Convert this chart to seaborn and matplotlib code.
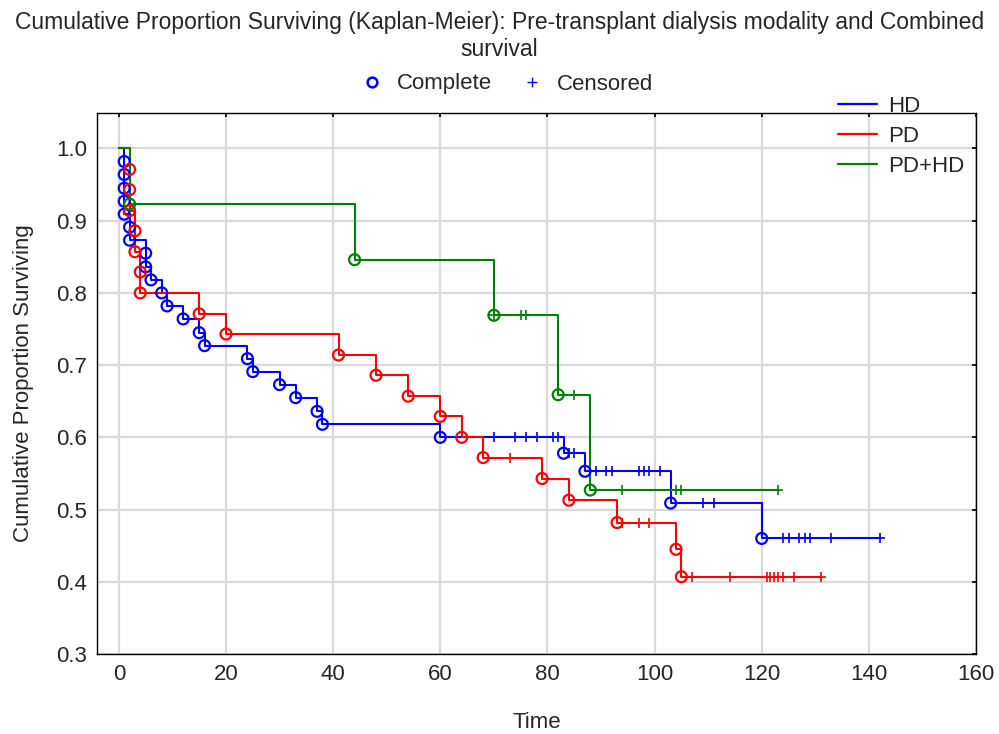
import numpy as np
import pandas as pd
import matplotlib
matplotlib.use("Agg")
import matplotlib.pyplot as plt
from matplotlib.lines import Line2D
import seaborn as sns

# ---- data ----
groups = ["HD", "PD", "PD+HD"]
colors = {"HD": "#0000ff", "PD": "#ff0000", "PD+HD": "#008000"}

hd_event_t = [1, 1, 1, 1, 1, 2, 2, 5, 5, 6, 8, 9, 12, 15, 16, 24, 25, 30, 33, 37, 38, 60, 83, 87, 103, 120]
hd_surv = [0.982, 0.964, 0.945, 0.927, 0.909, 0.891, 0.873, 0.855, 0.836, 0.818, 0.800, 0.782, 0.764,
           0.745, 0.727, 0.709, 0.691, 0.673, 0.655, 0.636, 0.618, 0.600, 0.578, 0.553, 0.509, 0.460]
hd_cens_t = [70, 74, 76, 78, 81, 82, 84, 85, 89, 91, 92, 97, 98, 99, 101, 109, 111,
             124, 125, 127, 128, 129, 133, 142]

pd_event_t = [2, 2, 2, 3, 3, 4, 4, 15, 20, 41, 48, 54, 60, 64, 68, 79, 84, 93, 104, 105]
pd_surv = [0.971, 0.943, 0.914, 0.886, 0.857, 0.829, 0.800, 0.771, 0.743, 0.714, 0.686, 0.657,
           0.629, 0.600, 0.572, 0.543, 0.513, 0.482, 0.445, 0.407]
pd_cens_t = [73, 94, 97, 99, 107, 114, 121, 121.5, 122.3, 123, 124, 126, 131]

pdhd_event_t = [2, 44, 70, 82, 88]
pdhd_surv = [0.923, 0.846, 0.769, 0.659, 0.527]
pdhd_cens_t = [70, 75, 76, 85, 94, 104, 105, 123]

x_ticks = [0, 20, 40, 60, 80, 100, 120, 140, 160]
y_ticks = [0.3, 0.4, 0.5, 0.6, 0.7, 0.8, 0.9, 1.0]

title = "Cumulative Proportion Surviving (Kaplan-Meier): Pre-transplant dialysis modality and Combined\nsurvival"

series = {
    "HD": (hd_event_t, hd_surv, hd_cens_t),
    "PD": (pd_event_t, pd_surv, pd_cens_t),
    "PD+HD": (pdhd_event_t, pdhd_surv, pdhd_cens_t),
}

# ---- build tables ----
line_rows, event_rows, cens_rows = [], [], []
for g, (et, sv, ct) in series.items():
    def s_at(t):
        v = 1.0
        for ti, si in zip(et, sv):
            if ti <= t:
                v = si
        return v
    line_rows.append((g, 0.0, 1.0, 0))
    k = 1
    for ti, si in zip(et, sv):
        line_rows.append((g, ti, si, k)); k += 1
    last = max(max(et), max(ct))
    line_rows.append((g, last, s_at(last), k))
    for ti, si in zip(et, sv):
        event_rows.append((g, ti, si))
    for ti in ct:
        cens_rows.append((g, ti, s_at(ti)))

lines_df = pd.DataFrame(line_rows, columns=["group", "time", "surv", "order"])
events_df = pd.DataFrame(event_rows, columns=["group", "time", "surv"])
cens_df = pd.DataFrame(cens_rows, columns=["group", "time", "surv"])

# ---- plot ----
sns.set_theme(style="white")
plt.rcParams["font.family"] = ["Liberation Sans", "DejaVu Sans"]
FS = 16

fig = plt.figure(figsize=(9.99, 7.34), dpi=100)
ax = fig.add_axes([0.097, 0.109, 0.880, 0.7375])

for g in groups:
    d = lines_df[lines_df.group == g]
    sns.lineplot(data=d, x="time", y="surv", ax=ax, color=colors[g], lw=1.5,
                 drawstyle="steps-post", estimator=None, sort=False, legend=False, zorder=3)
for g in groups:
    d = events_df[events_df.group == g]
    sns.scatterplot(data=d, x="time", y="surv", ax=ax, marker="o", s=62,
                    facecolor="none", edgecolor=colors[g], linewidth=1.6, legend=False, zorder=4)
    c = cens_df[cens_df.group == g]
    sns.scatterplot(data=c, x="time", y="surv", ax=ax, marker="+", s=60,
                    color=colors[g], linewidth=1.2, legend=False, zorder=4)

ax.set_xlim(-4.1, 160)
ax.set_ylim(0.3, 1.0496)
ax.set_xticks(x_ticks)
ax.set_yticks(y_ticks)
ax.set_xticklabels([str(v) for v in x_ticks], fontsize=FS)
ax.set_yticklabels([f"{v:.1f}" for v in y_ticks], fontsize=FS)
ax.grid(True, color="#d9d9d9", lw=1.6)
ax.set_axisbelow(True)
for sp in ax.spines.values():
    sp.set_color("black"); sp.set_linewidth(1.0)
ax.tick_params(direction="in", length=3, color="black", top=True, right=True, pad=7)
ax.set_xlabel("Time", fontsize=FS, labelpad=20)
ax.set_ylabel("Cumulative Proportion Surviving", fontsize=FS, labelpad=16)

fig.text(0.5, 1 - 11 / 734, title, ha="center", va="top", fontsize=16.5, linespacing=1.2)

h1 = [Line2D([], [], ls="none", marker="o", mfc="none", mec="#0000ff", mew=1.8, ms=7),
      Line2D([], [], ls="none", marker="+", color="#0000ff", mew=1.0, ms=7)]
fig.legend(h1, ["Complete", "Censored"], loc="center", bbox_to_anchor=(507 / 999, 1 - 84 / 734),
           ncol=2, frameon=False, fontsize=FS, columnspacing=1.33, handlelength=1.0,
           handletextpad=0.6)

h2 = [Line2D([], [], color=colors[g], lw=1.6) for g in groups]
fig.legend(h2, groups, loc="upper left", bbox_to_anchor=(818 / 999, 1 - 76 / 734),
           frameon=False, fontsize=FS, handlelength=1.75, labelspacing=0.4, handletextpad=0.5)

fig.savefig("out.png", dpi=100)
